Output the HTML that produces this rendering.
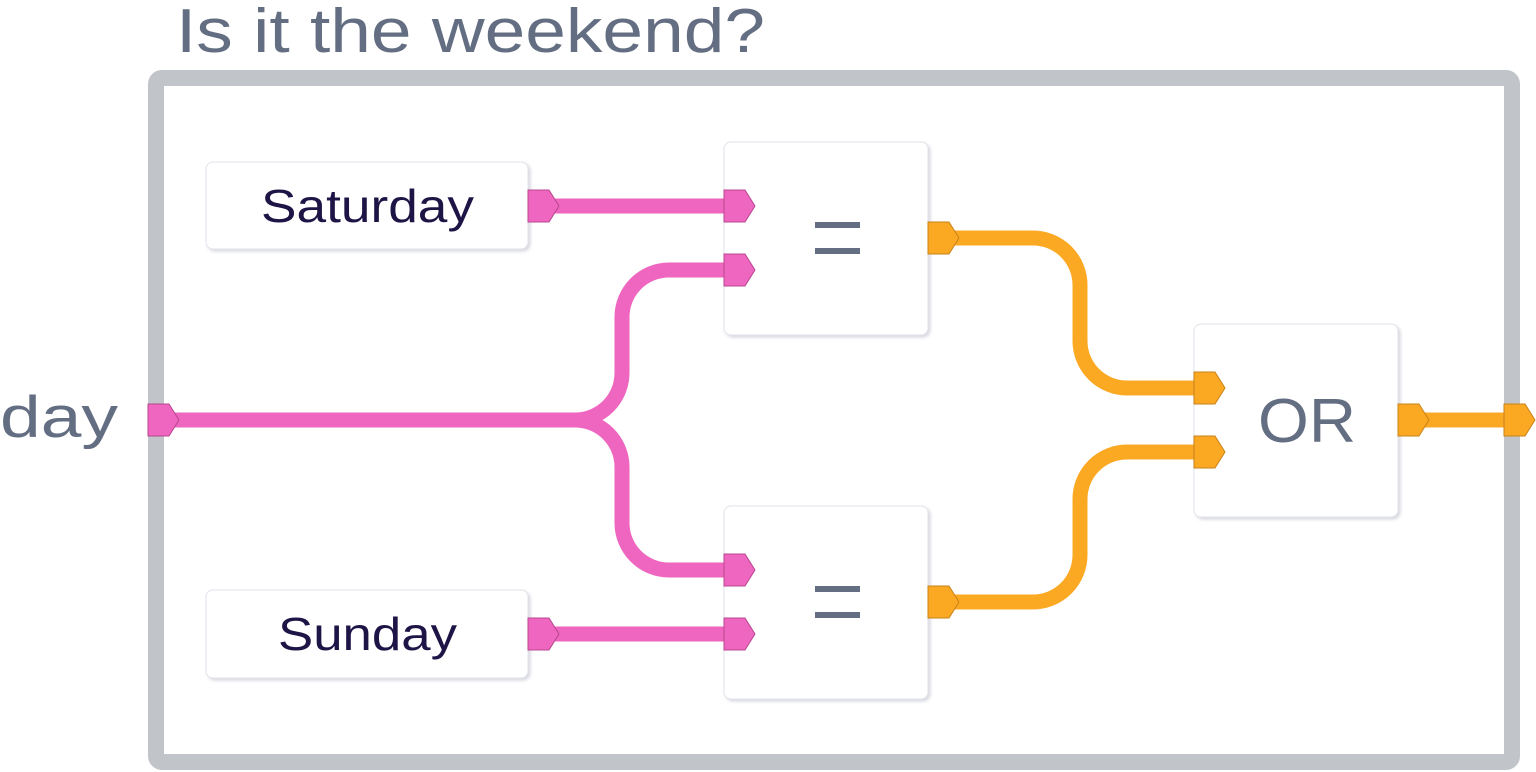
<!DOCTYPE html>
<html><head><style>html,body{margin:0;padding:0;background:#fff;width:1536px;height:772px;overflow:hidden}</style></head>
<body>
<svg width="1536" height="772" viewBox="0 0 1536 772" xmlns="http://www.w3.org/2000/svg" font-family="Liberation Sans, sans-serif">
<defs>
<filter id="sh" x="-10%" y="-10%" width="130%" height="130%"><feDropShadow dx="2" dy="2" stdDeviation="1.5" flood-color="#8a8fa8" flood-opacity="0.35"/></filter>
</defs>
<text x="176" y="52" font-size="62" fill="#646e82" textLength="589" lengthAdjust="spacingAndGlyphs">Is it the weekend?</text>
<text x="0" y="437" font-size="58" fill="#646e82" textLength="118" lengthAdjust="spacingAndGlyphs">day</text>
<rect x="156" y="78" width="1356" height="684" rx="6" fill="#fff" stroke="#c1c5c9" stroke-width="16"/>
<g fill="none" stroke-width="15" stroke="#ee66bf">
<path d="M170 420 H575 A47 47 0 0 0 622 373 V317 A47 47 0 0 1 669 270 H730"/>
<path d="M170 420 H575 A47 47 0 0 1 622 467 V523 A47 47 0 0 0 669 570 H730"/>
<path d="M550 206 H730"/>
<path d="M550 634 H730"/>
</g>
<g fill="none" stroke-width="15" stroke="#fba823">
<path d="M950 238 H1033 A47 47 0 0 1 1080 285 V341 A47 47 0 0 0 1127 388 H1200"/>
<path d="M950 602 H1033 A47 47 0 0 0 1080 555 V499 A47 47 0 0 1 1127 452 H1200"/>
<path d="M1420 420 H1510"/>
</g>
<g fill="#fff" stroke="#e2e3ea" stroke-width="1" filter="url(#sh)">
<rect x="206" y="162" width="322" height="87" rx="7"/>
<rect x="206" y="590" width="322" height="88" rx="7"/>
<rect x="724" y="142" width="204" height="193" rx="7"/>
<rect x="724" y="506" width="204" height="193" rx="7"/>
<rect x="1194" y="324" width="204" height="193" rx="7"/>
</g>
<g font-size="46" fill="#1e1446">
<text x="261" y="222" textLength="213" lengthAdjust="spacingAndGlyphs">Saturday</text>
<text x="278" y="650" textLength="179" lengthAdjust="spacingAndGlyphs">Sunday</text>
</g>
<g fill="#646e82">
<rect x="815" y="222" width="45" height="6"/>
<rect x="815" y="248" width="45" height="6"/>
<rect x="815" y="586" width="45" height="6"/>
<rect x="815" y="612" width="45" height="6"/>
<text x="1258" y="442" font-size="62" textLength="98" lengthAdjust="spacingAndGlyphs">OR</text>
</g>
<g stroke-width="1">
<g fill="#ee66bf" stroke="#b8478f">
<path d="M528 190 h21 l10 16 l-10 16 h-21 z"/>
<path d="M724 190 h21 l10 16 l-10 16 h-21 z"/>
<path d="M724 254 h21 l10 16 l-10 16 h-21 z"/>
<path d="M724 554 h21 l10 16 l-10 16 h-21 z"/>
<path d="M724 618 h21 l10 16 l-10 16 h-21 z"/>
<path d="M528 618 h21 l10 16 l-10 16 h-21 z"/>
<path d="M148 404 h21 l10 16 l-10 16 h-21 z"/>
</g>
<g fill="#fba823" stroke="#c98218">
<path d="M928 222 h21 l10 16 l-10 16 h-21 z"/>
<path d="M928 586 h21 l10 16 l-10 16 h-21 z"/>
<path d="M1194 372 h21 l10 16 l-10 16 h-21 z"/>
<path d="M1194 436 h21 l10 16 l-10 16 h-21 z"/>
<path d="M1398 404 h21 l10 16 l-10 16 h-21 z"/>
<path d="M1504 404 h21 l10 16 l-10 16 h-21 z"/>
</g>
</g>
</svg>
</body></html>
